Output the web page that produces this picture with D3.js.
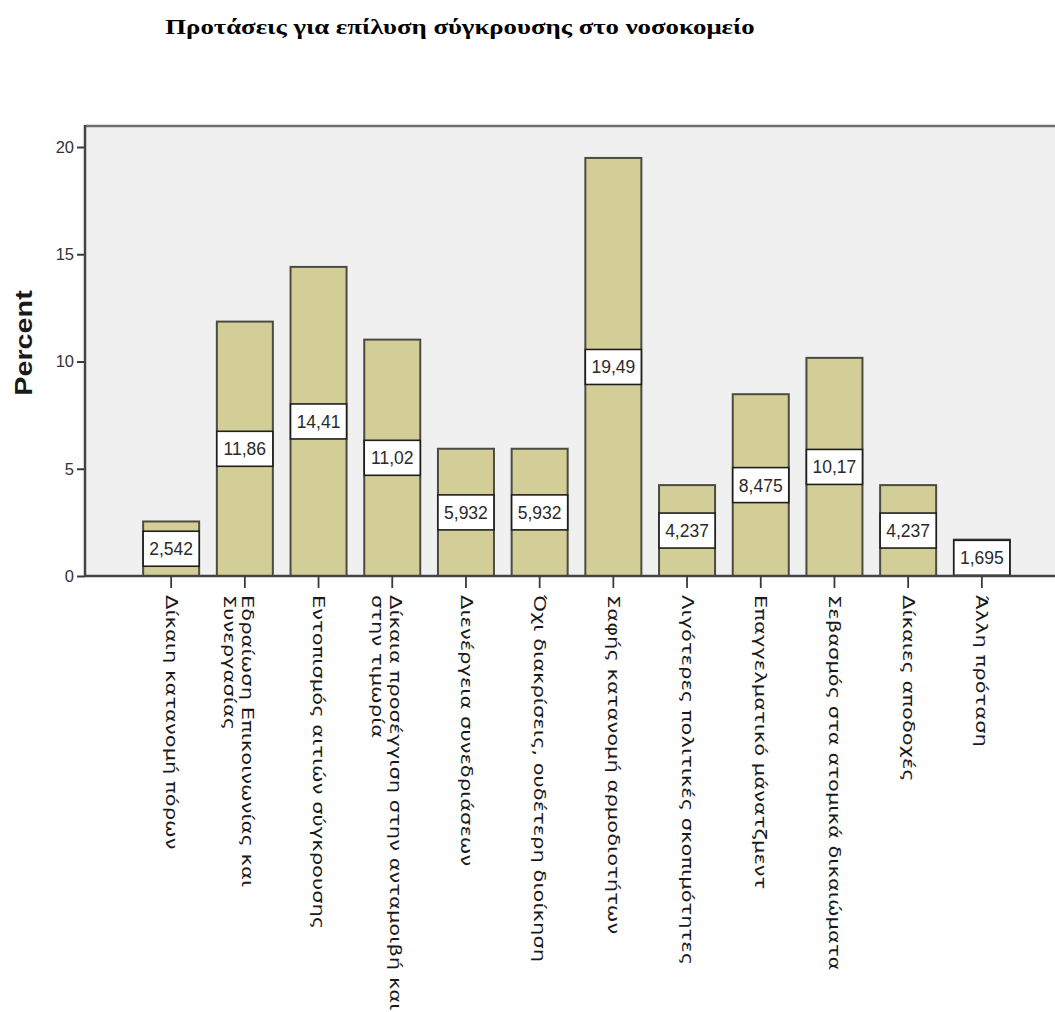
<!DOCTYPE html>
<html>
<head>
<meta charset="utf-8">
<script src="https://cdn.jsdelivr.net/npm/d3@7"></script>
<style>
  html, body { margin: 0; padding: 0; background: #ffffff; }
  svg { display: block; }
</style>
</head>
<body>
<svg id="chart" width="1055" height="1012"></svg>
<script>
// Category labels (each entry holds the wrapped lines of one label)
const categories = [
  ["Δίκαιη κατανομή πόρων"],
  ["Εδραίωση Επικοινωνίας και", "Συνεργασίας"],
  ["Εντοπισμός αιτιών σύγκρουσης"],
  ["Δίκαια προσέγγιση στην ανταμοιβή και", "στην τιμωρία"],
  ["Διενέργεια συνεδριάσεων"],
  ["Όχι διακρίσεις, ουδέτερη διοίκηση"],
  ["Σαφής κατανομή αρμοδιοτήτων"],
  ["Λιγότερες πολιτικές σκοπιμότητες"],
  ["Επαγγελματικό μάνατζμεντ"],
  ["Σεβασμός στα ατομικά δικαιώματα"],
  ["Δίκαιες αποδοχές"],
  ["Άλλη πρόταση"]
];
const percents = [2.542, 11.86, 14.41, 11.02, 5.932, 5.932, 19.49, 4.237, 8.475, 10.17, 4.237, 1.695];
const yTicks = [0, 5, 10, 15, 20];
const title = "Προτάσεις για επίλυση σύγκρουσης στο νοσοκομείο";
const yLabel = "Percent";

const svg = d3.select("#chart");

// plot frame geometry
const plotLeft = 85, plotTop = 126, plotBottom = 576, plotRight = 1062;

const keys = categories.map((c, i) => i);
const x = d3.scaleBand()
  .domain(keys)
  .range([134.3, 134.3 + 12 * 73.7])
  .paddingInner(0.24)
  .paddingOuter(0.12);

const y = d3.scaleLinear().domain([0, 20]).range([plotBottom, 147]);

// title (wide bold serif)
svg.append("text")
  .attr("transform", "translate(460,34) scale(1.34,1)")
  .attr("text-anchor", "middle")
  .style("font-family", "'Liberation Serif', 'Times New Roman', serif")
  .style("font-weight", "bold")
  .style("font-size", "20px")
  .text(title);

// plot background
svg.append("rect")
  .attr("x", plotLeft).attr("y", plotTop)
  .attr("width", plotRight - plotLeft).attr("height", plotBottom - plotTop)
  .attr("fill", "#f0f0f0");

// top frame line
svg.append("line")
  .attr("x1", plotLeft).attr("x2", plotRight)
  .attr("y1", plotTop).attr("y2", plotTop)
  .attr("stroke", "#6e6e6e").attr("stroke-width", 2.5);

// bars
const bars = svg.append("g");
bars.selectAll("rect")
  .data(percents)
  .join("rect")
  .attr("x", (d, i) => x(i))
  .attr("y", d => y(d))
  .attr("width", x.bandwidth())
  .attr("height", d => y(0) - y(d))
  .attr("fill", "#d3ce97")
  .attr("stroke", "#4b4b40")
  .attr("stroke-width", 2);

// value boxes at bar mid-height
const fmt = v => String(v).replace(".", ",");
const boxH = 35;
const vals = svg.append("g");
percents.forEach((v, i) => {
  const cy = (y(v) + y(0)) / 2;
  vals.append("rect")
    .attr("x", x(i)).attr("y", cy - boxH / 2)
    .attr("width", x.bandwidth()).attr("height", boxH)
    .attr("fill", "#ffffff")
    .attr("stroke", "#1e1e1e").attr("stroke-width", 1.6);
  vals.append("text")
    .attr("x", x(i) + x.bandwidth() / 2).attr("y", cy + 6.5)
    .attr("text-anchor", "middle")
    .style("font-family", "'Liberation Sans', Arial, sans-serif")
    .style("font-size", "17.5px")
    .attr("fill", "#2a2a2a")
    .text(fmt(v));
});

// y axis
const yAxis = svg.append("g")
  .attr("transform", `translate(${plotLeft},0)`)
  .call(d3.axisLeft(y).tickValues(yTicks).tickSize(8).tickPadding(3).tickSizeOuter(0));
yAxis.select(".domain").remove();
yAxis.selectAll(".tick line").attr("stroke", "#3a3a3a").attr("stroke-width", 2);
yAxis.selectAll(".tick text")
  .style("font-family", "'Liberation Sans', Arial, sans-serif")
  .style("font-size", "16.5px")
  .attr("fill", "#333");
svg.append("line")
  .attr("x1", plotLeft).attr("x2", plotLeft)
  .attr("y1", plotTop - 1).attr("y2", plotBottom + 1)
  .attr("stroke", "#444").attr("stroke-width", 2.5);

// x axis baseline and ticks
svg.append("line")
  .attr("x1", plotLeft).attr("x2", plotRight)
  .attr("y1", plotBottom).attr("y2", plotBottom)
  .attr("stroke", "#444").attr("stroke-width", 2.5);
const xAxis = svg.append("g")
  .attr("transform", `translate(0,${plotBottom})`)
  .call(d3.axisBottom(x).tickSize(12).tickFormat(""));
xAxis.select(".domain").remove();
xAxis.selectAll(".tick line").attr("stroke", "#3a3a3a").attr("stroke-width", 1.8);

// rotated category labels, reading downward
const labels = svg.append("g");
categories.forEach((lines, i) => {
  const cx = x(i) + x.bandwidth() / 2;
  const offs = lines.length > 1 ? 3 : 0;
  lines.forEach((ln, j) => {
    labels.append("text")
      .attr("transform", `translate(${cx + offs - j * 18},595) scale(1,1.36) rotate(90)`)
      .attr("dy", "0.35em")
      .style("font-family", "'DejaVu Sans', sans-serif")
      .style("font-size", "15.5px")
      .attr("fill", "#1a1a1a")
      .text(ln);
  });
});

// y axis title
svg.append("text")
  .attr("transform", `translate(32,343) scale(1,1.25) rotate(-90)`)
  .attr("text-anchor", "middle")
  .style("font-family", "'Liberation Sans', Arial, sans-serif")
  .style("font-weight", "bold")
  .style("font-size", "23px")
  .attr("fill", "#1a1a1a")
  .text(yLabel);
</script>
</body>
</html>
